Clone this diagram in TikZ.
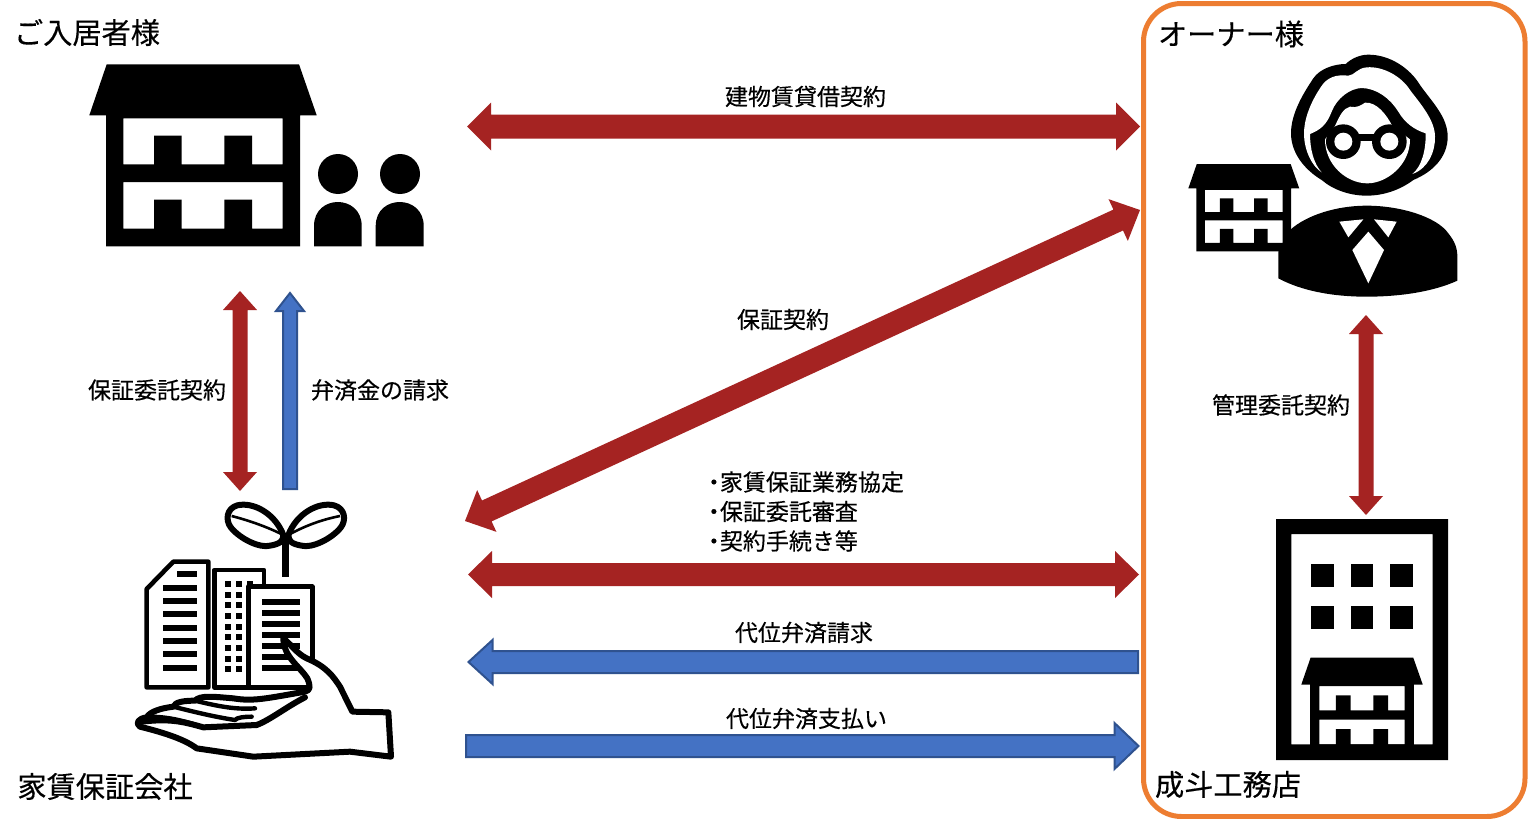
\documentclass[tikz,border=0pt]{standalone}
\usepackage{fontspec}
\setmainfont[FakeBold=0.35]{Noto Sans CJK JP}
\usetikzlibrary{calc}
\definecolor{redarrow}{HTML}{A52322}
\definecolor{bluefill}{HTML}{4472C4}
\definecolor{blueline}{HTML}{2F528F}
\definecolor{orangebox}{HTML}{ED7D31}
\tikzset{
  redshape/.style={fill=redarrow,draw=none},
  blueshape/.style={fill=bluefill,draw=blueline,line width=1pt,line join=miter},
  label/.style={inner sep=0pt,font=\fontsize{11.5pt}{14.75pt}\selectfont,text=black},
  title/.style={inner sep=0pt,font=\fontsize{14.6pt}{17pt}\selectfont,text=black},
  ink/.style={draw=black,fill=white,line join=round,line cap=round}
}
% #1 style, #2 a, #3 b, #4 half shaft, #5 half head, #6 head length (all px)
\newcommand{\dblarrow}[6]{%
  \path[#1]
    (#2) -- ($($(#2)!#6*0.5pt!(#3)$)!#5*0.5pt!90:(#3)$)
    -- ($($(#2)!#6*0.5pt!(#3)$)!#4*0.5pt!90:(#3)$)
    -- ($($(#3)!#6*0.5pt!(#2)$)!#4*0.5pt!-90:(#2)$)
    -- ($($(#3)!#6*0.5pt!(#2)$)!#5*0.5pt!-90:(#2)$)
    -- (#3)
    -- ($($(#3)!#6*0.5pt!(#2)$)!#5*0.5pt!90:(#2)$)
    -- ($($(#3)!#6*0.5pt!(#2)$)!#4*0.5pt!90:(#2)$)
    -- ($($(#2)!#6*0.5pt!(#3)$)!#4*0.5pt!-90:(#3)$)
    -- ($($(#2)!#6*0.5pt!(#3)$)!#5*0.5pt!-90:(#3)$)
    -- cycle;}
% single head at #3
\newcommand{\sglarrow}[6]{%
  \path[#1]
    ($(#2)!#4*0.5pt!90:(#3)$)
    -- ($($(#3)!#6*0.5pt!(#2)$)!#4*0.5pt!-90:(#2)$)
    -- ($($(#3)!#6*0.5pt!(#2)$)!#5*0.5pt!-90:(#2)$)
    -- (#3)
    -- ($($(#3)!#6*0.5pt!(#2)$)!#5*0.5pt!90:(#2)$)
    -- ($($(#3)!#6*0.5pt!(#2)$)!#4*0.5pt!90:(#2)$)
    -- ($(#2)!#4*0.5pt!-90:(#3)$)
    -- cycle;}
% house icon in its own px frame
\newcommand{\houseicon}{%
  \fill[black,even odd rule]
    (89.3,115.3) -- (106.7,64.3) -- (299,64.3) -- (316.7,115.3) -- (300,115.3) -- (300,246.3) -- (106,246.3) -- (106,115.3) -- cycle
    (123.3,118.3) -- (282.7,118.3) -- (282.7,164.3) -- (252,164.3) -- (252,135.7) -- (224.3,135.7) -- (224.3,164.3) -- (181.7,164.3) -- (181.7,135.7) -- (154,135.7) -- (154,164.3) -- (123.3,164.3) -- cycle
    (123.3,182) -- (282.7,182) -- (282.7,228.7) -- (252,228.7) -- (252,199.7) -- (224.3,199.7) -- (224.3,228.7) -- (181.7,228.7) -- (181.7,199.7) -- (154,199.7) -- (154,228.7) -- (123.3,228.7) -- cycle;}
\begin{document}
\begin{tikzpicture}[x=0.5pt,y=-0.5pt]
\useasboundingbox (0,0) rectangle (1528,819);
\fill[white] (0,0) rectangle (1528,819);

% owner frame
\draw[orangebox,line width=2.5pt,rounded corners=19pt] (1143.5,3.5) rectangle (1525,816.5);

% arrow ends
\coordinate (rentL) at (467,126.5); \coordinate (rentR) at (1140,126.5);
\coordinate (guarL) at (465,521);   \coordinate (guarR) at (1140,210);
\coordinate (workL) at (468,574.5); \coordinate (workR) at (1139,574.5);
\coordinate (subR) at (1138,662);   \coordinate (subL) at (468.5,662);
\coordinate (payL) at (466,746);    \coordinate (payR) at (1138.5,746);
\coordinate (trustT) at (240,291);  \coordinate (trustB) at (240,491);
\coordinate (billB) at (290,489);   \coordinate (billT) at (290,293);
\coordinate (mgmtT) at (1366,315);  \coordinate (mgmtB) at (1366,515);

\dblarrow{redshape}{rentL}{rentR}{12}{24}{24}
\dblarrow{redshape}{guarL}{guarR}{11.5}{23}{24}
\dblarrow{redshape}{workL}{workR}{11.5}{23.5}{24}
\sglarrow{blueshape}{subR}{subL}{11}{22}{24}
\sglarrow{blueshape}{payL}{payR}{11}{23}{24}
\dblarrow{redshape}{trustT}{trustB}{7.5}{17}{19}
\sglarrow{blueshape}{billB}{billT}{7}{14}{18}
\dblarrow{redshape}{mgmtT}{mgmtB}{7.5}{17}{19}

% tenant icon
\houseicon
\fill (338,174) circle[radius=20];
\fill (400,174) circle[radius=20];
\fill (314,246.3) -- (314,226) .. controls (314,194) and (361.7,194) .. (361.7,226) -- (361.7,246.3) -- cycle;
\fill (375.7,246.3) -- (375.7,226) .. controls (375.7,194) and (423.7,194) .. (423.7,226) -- (423.7,246.3) -- cycle;

% owner icon (zoom frame: origin 1180,40, 3 units per px)
\begin{scope}[shift={(1180,40)},x=0.16667pt,y=-0.16667pt]
  \fill[black] (333,280) .. controls (333,220) and (370,160) .. (400,115)
     .. controls (420,85) and (465,72) .. (497,72)
     .. controls (515,55) and (540,44) .. (565,44)
     .. controls (630,44) and (690,85) .. (720,135)
     .. controls (755,185) and (803,230) .. (803,290)
     .. controls (803,350) and (760,395) .. (700,420)
     .. controls (660,450) and (610,467) .. (560,467)
     .. controls (510,467) and (460,450) .. (425,420)
     .. controls (375,390) and (333,340) .. (333,280) -- cycle;
  \fill[white] (390,282) .. controls (420,270) and (440,255) .. (455,215)
     .. controls (470,175) and (510,145) .. (545,144)
     .. controls (590,145) and (630,175) .. (655,215)
     .. controls (675,250) and (705,270) .. (737,280)
     .. controls (738,330) and (725,380) .. (697,402)
     .. controls (745,385) and (766,335) .. (765,290)
     .. controls (765,240) and (720,190) .. (690,150)
     .. controls (665,110) and (610,78) .. (560,82)
     .. controls (530,85) and (525,105) .. (505,107)
     .. controls (470,103) and (440,110) .. (420,145)
     .. controls (390,190) and (372,240) .. (372,280)
     .. controls (372,330) and (395,378) .. (425,397)
     .. controls (400,370) and (390,325) .. (390,282) -- cycle;
  \fill[white] (435,298) -- (465,258) .. controls (480,225) and (490,205) .. (510,200) .. controls (530,205) and (545,195) .. (555,188)
     .. controls (590,185) and (620,225) .. (637,258) -- (690,298)
     .. controls (690,375) and (620,430) .. (562,430) .. controls (500,430) and (435,375) .. (435,298) -- cycle;
  \fill[black] (490,305) circle[radius=52];
  \fill[black] (628,305) circle[radius=52];
  \fill[black] (530,283) rectangle (590,303);
  \fill[white] (490,305) circle[radius=27];
  \fill[white] (628,305) circle[radius=27];
  % body
  \fill[black] (295,635) -- (330,570) .. controls (380,525) and (470,497) .. (560,497)
     .. controls (660,497) and (770,530) .. (805,580) .. controls (825,605) and (832,625) .. (832,650)
     -- (832,722) .. controls (760,755) and (660,770) .. (560,770) .. controls (450,770) and (360,750) .. (295,715) -- cycle;
  \fill[white] (478,545) -- (550,538) -- (505,592) -- cycle;
  \fill[white] (582,538) -- (650,545) -- (625,592) -- cycle;
  \fill[white] (565,575) -- (612,630) -- (565,730) -- (517,630) -- cycle;
\end{scope}
\begin{scope}[shift={(1188.3,164)},xscale=0.488,yscale=0.48,shift={(-89.3,-64.3)}]
  \houseicon
\end{scope}

% contractor icon
\fill[black,even odd rule] (1276,519) rectangle (1448,760) (1291.3,534) rectangle (1432.7,744.3);
\foreach \wx in {1311.3,1350.7,1390}{
  \foreach \wy in {564.3,606.3}{
    \fill (\wx,\wy) rectangle ++(22.7,23);
  }
}
\begin{scope}[shift={(1301.3,657.7)},xscale=0.534,yscale=0.527,shift={(-89.3,-64.3)}]
  \houseicon
\end{scope}

% company icon (zoom frame: origin 120,490, 3 units per px)
\begin{scope}[shift={(120,490)},x=0.16667pt,y=-0.16667pt]
  % sprout
  \draw[ink,fill=none,line width=3pt] (490,135) .. controls (465,70) and (400,35) .. (352,46)
     .. controls (320,55) and (315,90) .. (333,113) .. controls (362,148) and (420,175) .. (450,167) .. controls (478,162) and (490,155) .. (490,135) -- cycle;
  \draw[ink,fill=none,line width=3pt] (505,135) .. controls (530,70) and (595,35) .. (642,46)
     .. controls (675,55) and (680,90) .. (662,113) .. controls (633,148) and (575,175) .. (545,167) .. controls (517,162) and (505,155) .. (505,135) -- cycle;
  \draw[line width=1.3pt] (335,78) .. controls (400,95) and (450,115) .. (490,135);
  \draw[line width=1.3pt] (660,78) .. controls (600,90) and (550,110) .. (505,135);
  \fill (486,135) rectangle (508,260);
  % left tower
  \draw[ink,line width=2.3pt] (80,297) -- (160,215) -- (265,215) -- (265,592) -- (80,592) -- cycle;
  \fill (170,244) rectangle (232,262);
  \foreach \by in {284,324,364,404,444,484,524}{ \fill (130,\by) rectangle (232,\by+18); }
  % middle tower
  \draw[ink,line width=2.3pt] (385,592) -- (283,592) -- (283,240) -- (432,240) -- (432,290);
  \foreach \dy in {273,305,337,369,401,433,465,497,529}{
    \fill (316,\dy) rectangle ++(18,18);
    \fill (348,\dy) rectangle ++(18,18);
  }
  \fill (380,273) rectangle ++(18,18);
  % right tower
  \draw[ink,line width=2.3pt] (385,290) rectangle (577,592);
  \foreach \by in {327,359,392,425,458,491,524}{ \fill (425,\by) rectangle (540,\by+18); }
  % hand
  \fill[white] (490,445) -- (540,490) -- (620,535) -- (660,590) -- (697,665) -- (805,667) -- (813,800) -- (690,785) -- (400,800) -- (230,775) -- (130,730) -- (60,710) -- (52,695) -- (90,680) -- (95,660) -- (160,650) -- (165,635) -- (225,630) -- (240,620) -- (440,625) -- (555,605) -- (570,600) -- (555,560) -- (500,500) -- cycle;
  \draw[ink,fill=none,line width=3pt] (555,605) .. controls (572,600) and (572,590) .. (562,565) .. controls (540,530) and (490,500) .. (490,445)
     .. controls (520,470) and (530,490) .. (560,505) .. controls (620,530) and (640,560) .. (660,590)
     -- (697,665) -- (805,667) -- (813,800) -- (690,785) -- (400,800) -- (230,775)
     .. controls (190,745) and (120,725) .. (60,710) .. controls (45,700) and (55,685) .. (80,682)
     .. controls (90,665) and (120,655) .. (160,650) .. controls (165,635) and (195,632) .. (225,632)
     .. controls (240,615) and (280,620) .. (340,625) .. controls (400,635) and (440,625) .. (555,605);
  \draw[ink,fill=none,line width=3pt] (555,622) .. controls (500,650) and (450,690) .. (410,705) -- (250,712) .. controls (190,695) and (150,685) .. (65,695);
  \draw[ink,fill=none,line width=2.2pt] (85,680) .. controls (150,680) and (200,695) .. (250,712);
  \draw[ink,fill=none,line width=2.2pt] (160,650) .. controls (220,665) and (280,680) .. (345,690) .. controls (350,682) and (375,680) .. (395,680);
  \draw[ink,fill=none,line width=2.2pt] (225,632) .. controls (280,645) and (340,660) .. (405,655);
\end{scope}

% titles
\node[title] (tenant) at (87,32.5) {ご入居者様};
\node[title] (owner) at (1231,34) {オーナー様};
\node[title] (company) at (105,786.5) {家賃保証会社};
\node[title] (builder) at (1228,784.5) {成斗工務店};

% labels
\node[label] (lrent) at (805.5,96.5) {建物賃貸借契約};
\node[label] (lguar) at (783,319.5) {保証契約};
\node[label] (ltrust) at (157,390) {保証委託契約};
\node[label] (lbill) at (380,390) {弁済金の請求};
\node[label] (lmgmt) at (1281,405) {管理委託契約};
\node[label,anchor=west,align=left] (lwork) at (707.5,511.5) {%
  \makebox[6pt][c]{・}家賃保証業務協定\\
  \makebox[6pt][c]{・}保証委託審査\\
  \makebox[6pt][c]{・}契約手続き等};
\node[label] (lsub) at (804,632.5) {代位弁済請求};
\node[label] (lpay) at (806.5,718.5) {代位弁済支払い};
\end{tikzpicture}
\end{document}
